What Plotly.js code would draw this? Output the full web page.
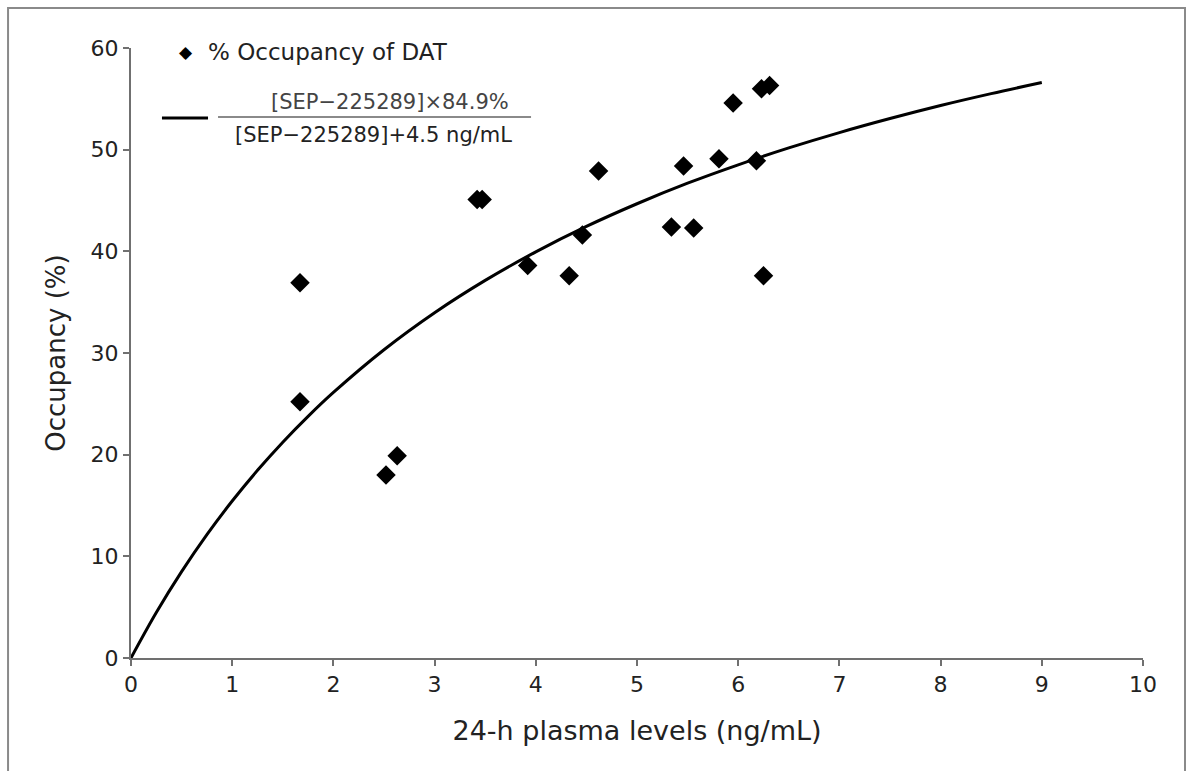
<!DOCTYPE html>
<html>
<head>
<meta charset="utf-8">
<script src="https://cdn.plot.ly/plotly-3.0.1.min.js"></script>
<style>html,body{margin:0;padding:0;background:#fff}#chart{width:1188px;height:771px}</style>
</head>
<body>
<div id="chart"></div>
<script>
// Observed occupancy of DAT
const plasmaLevels = [1.67, 1.67, 2.52, 2.63, 3.42, 3.47, 3.92, 4.33, 4.46, 4.62, 5.34, 5.46, 5.56, 5.81, 5.95, 6.18, 6.23, 6.25, 6.31];
const occupancy    = [36.9, 25.2, 18.0, 19.9, 45.1, 45.1, 38.6, 37.6, 41.6, 47.9, 42.4, 48.4, 42.3, 49.1, 54.6, 48.9, 56.0, 37.6, 56.3];

// Fitted curve
const curveX = [0, 0.25, 0.5, 0.75, 1, 1.25, 1.5, 1.75, 2, 2.5, 3, 3.5, 4, 4.5, 5, 5.5, 6, 6.5, 7, 7.5, 8, 8.5, 9];
const curveY = [0, 4.47, 8.49, 12.13, 15.44, 18.46, 21.23, 23.77, 26.12, 30.32, 33.96, 37.14, 39.95, 42.45, 44.68, 46.70, 48.51, 50.17, 51.68, 53.06, 54.34, 55.51, 56.60];

const xTicks = [0, 1, 2, 3, 4, 5, 6, 7, 8, 9, 10];
const yTicks = [0, 10, 20, 30, 40, 50, 60];

const legendPointLabel = '% Occupancy of DAT';
const formulaNumerator = '[SEP\u2212225289]\u00d784.9%';
const formulaDenominator = '[SEP\u2212225289]+4.5 ng/mL';

const font = 'DejaVu Sans, Verdana, sans-serif';

const traces = [
  {
    x: curveX, y: curveY, type: 'scatter', mode: 'lines',
    line: {color: '#000', width: 3, shape: 'spline'},
    hoverinfo: 'skip', showlegend: false, cliponaxis: false
  },
  {
    x: plasmaLevels, y: occupancy, type: 'scatter', mode: 'markers',
    marker: {symbol: 'diamond', size: 15, color: '#000'},
    showlegend: false, cliponaxis: false
  }
];

const axisCommon = {
  showgrid: false, zeroline: false, showline: true,
  linecolor: '#707070', linewidth: 2,
  ticks: 'outside', ticklen: 6, tickwidth: 2, tickcolor: '#707070',
  tickfont: {family: font, size: 22, color: '#222'},
  fixedrange: true
};

const layout = {
  width: 1188, height: 771,
  margin: {l: 131, r: 45, t: 48, b: 113},
  paper_bgcolor: '#fff', plot_bgcolor: '#fff',
  font: {family: font, color: '#222'},
  showlegend: false,
  xaxis: Object.assign({}, axisCommon, {
    range: [0, 10], tickvals: xTicks, ticktext: xTicks.map(String),
    title: {text: '24-h plasma levels (ng/mL)', font: {family: font, size: 27, color: '#222'}, standoff: 25}
  }),
  yaxis: Object.assign({}, axisCommon, {
    range: [0, 60], tickvals: yTicks, ticktext: yTicks.map(String),
    title: {text: 'Occupancy (%)', font: {family: font, size: 26, color: '#222'}, standoff: 17}
  }),
  shapes: [
    {type: 'rect', xref: 'paper', yref: 'paper', x0: -0.1215, x1: 1.0415, y0: -0.3, y1: 1.0656,
     line: {color: '#8a8a8a', width: 2}, layer: 'below'},
    {type: 'line', xref: 'paper', yref: 'paper', x0: 0.0306, x1: 0.0761, y0: 0.8852, y1: 0.8852,
     line: {color: '#000', width: 3}},
    {type: 'line', xref: 'paper', yref: 'paper', x0: 0.086, x1: 0.3953, y0: 0.8869, y1: 0.8869,
     line: {color: '#8a8a8a', width: 2}}
  ],
  annotations: [
    {xref: 'paper', yref: 'paper', x: 0.0543, y: 0.9934, xanchor: 'center', yanchor: 'middle',
     text: '\u25c6', showarrow: false, font: {family: font, size: 17, color: '#000'}},
    {xref: 'paper', yref: 'paper', x: 0.0741, y: 0.9934, xanchor: 'left', yanchor: 'middle',
     text: legendPointLabel, showarrow: false, font: {family: font, size: 23, color: '#222'}},
    {xref: 'paper', yref: 'paper', x: 0.2559, y: 0.9115, xanchor: 'center', yanchor: 'middle',
     text: formulaNumerator, showarrow: false, font: {family: font, size: 21, color: '#444'}},
    {xref: 'paper', yref: 'paper', x: 0.2401, y: 0.8574, xanchor: 'center', yanchor: 'middle',
     text: formulaDenominator, showarrow: false, font: {family: font, size: 21, color: '#222'}}
  ]
};

Plotly.newPlot('chart', traces, layout, {displayModeBar: false, staticPlot: true});
</script>
</body>
</html>
